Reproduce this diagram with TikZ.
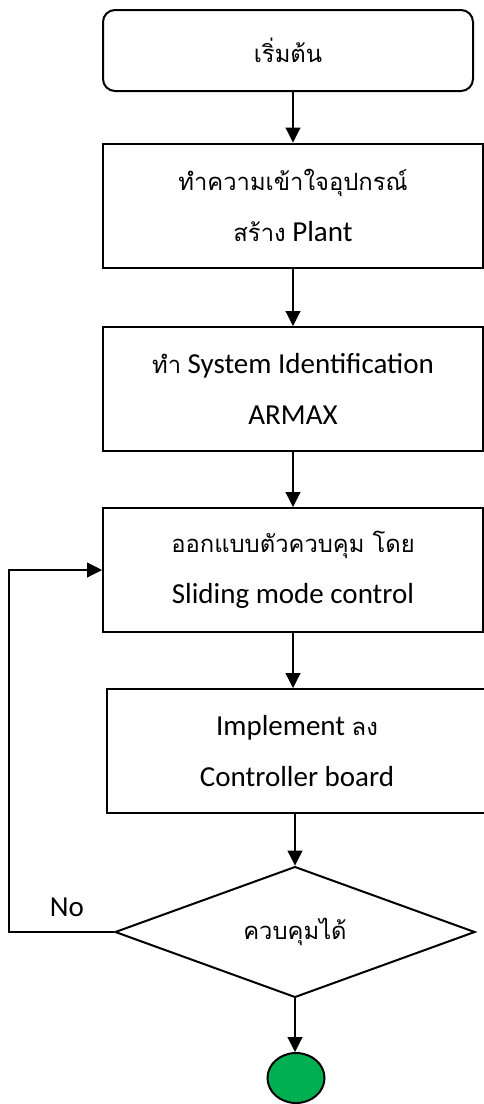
\documentclass[tikz,border=0pt]{standalone}
\usepackage{fontspec}
\setmainfont{Carlito}
\newfontfamily\thai[Script=Thai,Scale=0.82]{Loma}
\usetikzlibrary{arrows.meta,shapes.geometric}
\definecolor{endgreen}{HTML}{00B050}
\tikzset{
  base/.style={draw, line width=2pt, font=\fontsize{29}{51}\selectfont, align=center, inner sep=0pt},
  procbox/.style={base, rectangle, minimum width=380pt, minimum height=124pt},
  startbox/.style={base, rectangle, rounded corners=12pt, minimum width=370pt, minimum height=81pt},
  decision/.style={base, diamond, minimum width=360pt, minimum height=125pt},
  endcircle/.style={draw, line width=2pt, ellipse, fill=endgreen, minimum width=57pt, minimum height=50pt, inner sep=0pt},
  flow/.style={line width=1.1pt, -{Triangle[length=15pt,width=15pt]}}
}
\begin{document}
\begin{tikzpicture}[x=1pt,y=-1pt]
\useasboundingbox (0,0) rectangle (484,1104);
\node[startbox] (start) at (288,50.5) {\thai เริ่มต้น};
\node[procbox] (plant) at (293,205.5) {{\thai ทำความเข้าใจอุปกรณ์}\\{\thai สร้าง} Plant};
\node[procbox] (sysid) at (293,389) {{\thai ทำ} System Identification\\ARMAX};
\node[procbox] (design) at (293,570) {{\thai ออกแบบตัวควบคุม โดย}\\Sliding mode control};
\node[procbox, minimum width=380pt] (impl) at (297,751) {Implement {\thai ลง}\\Controller board};
\node[decision] (check) at (295,932) {\thai ควบคุมได้};
\node[endcircle] (stop) at (296,1078) {};
\node[font=\fontsize{29}{34}\selectfont, anchor=center] (nolabel) at (67,907) {No};
\coordinate (loop) at (9,570);

\draw[flow] (plant.north |- start.south) -- (plant.north);
\draw[flow] (plant) -- (sysid);
\draw[flow] (sysid) -- (design);
\draw[flow] (design.south) -- (design.south |- impl.north);
\draw[flow] (check.north |- impl.south) -- (check.north);
\draw[flow] (check.south) -- (check.south |- stop.north);
\draw[flow] (check.west) -| (loop) -- (design.west);
\end{tikzpicture}
\end{document}
